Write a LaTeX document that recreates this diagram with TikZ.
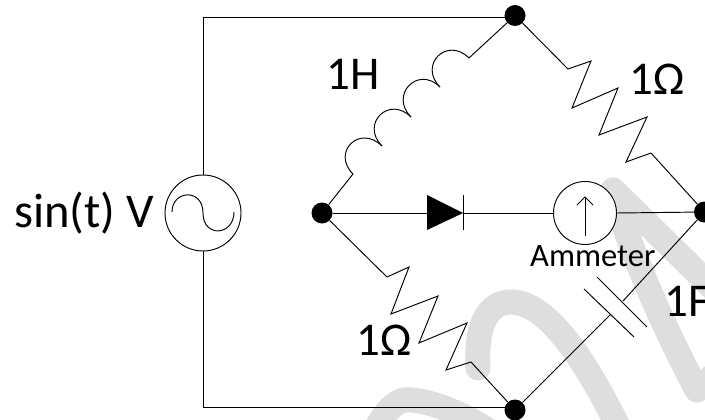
\documentclass[tikz,border=0pt]{standalone}
\usepackage{fontspec}
\setmainfont{Carlito}
\newcommand{\bigtxt}{\fontsize{47}{52}\selectfont}
\newcommand{\sintxt}{\fontsize{48.5}{52}\selectfont}
\newcommand{\midtxt}{\fontsize{32.6}{36}\selectfont}
\tikzset{
  wm/.style={draw=black!13,line width=25pt,line cap=round,line join=round},
  wire/.style={draw=black,line width=0.95pt},
  dot/.style={circle,fill=black,draw=none,minimum size=21pt,inner sep=0pt},
  meter/.style={circle,draw=black,fill=white,line width=0.95pt,inner sep=0pt},
  lab/.style={inner sep=0pt,anchor=base west,text=black},
}
\begin{document}
\begin{tikzpicture}[x=1pt,y=-1pt]
\useasboundingbox (0,0) rectangle (705,420);
\clip (0,0) rectangle (705,420);
\fill[white] (0,0) rectangle (705,420);
% watermark
\draw[wm] (613,190) -- (720,295);
\draw[wm] (613,190) .. controls (630,250) and (660,320) .. (697,390) -- (725,365);
\draw[wm] (478,368) .. controls (476,330) and (485,303) .. (510,302) .. controls (550,301) and (590,370) .. (620,430);
\draw[wm] (378,425) .. controls (390,405) and (400,398) .. (412,400) .. controls (440,403) and (470,418) .. (495,435);
% nodes
\node[dot] (top) at (515,15.5) {};
\node[dot] (lft) at (322,213) {};
\node[dot] (rgt) at (704.5,212) {};
\node[dot] (bot) at (515,410) {};
\node[meter,minimum size=76pt] (src) at (203,213) {};
\node[meter,minimum size=63pt] (amm) at (585,213) {};
\coordinate (tw) at (515,17.3);
\coordinate (bw) at (515,407.3);
\coordinate (dl) at (427,213);
\coordinate (dr) at (463,213);
\coordinate (lt) at (469,58);
\coordinate (lb) at (353,174);
\coordinate (cu) at (623,301);
\coordinate (cd) at (610,315);
\coordinate (r1a) at (568,69);
\coordinate (r1b) at (651,153);
\coordinate (r2a) at (387,277);
\coordinate (r2b) at (471,362);
% source wires
\draw[wire] (src.north) |- (tw);
\draw[wire] (src.south) |- (bw);
% wave
\draw[wire] (172,212) .. controls (172,190) and (203,188) .. (203,213) .. controls (203,238) and (234,236) .. (234,212);
% inductor
\draw[wire] (top) -- (lt) .. controls (447,36) and (418,65) .. (440,87);
\draw[wire] (440,87) .. controls (418,65) and (389,95) .. (411,117);
\draw[wire] (411,117) .. controls (389,95) and (360,124) .. (382,146);
\draw[wire] (382,146) .. controls (360,124) and (331,152) .. (lb) -- (lft);
% R top
\draw[wire,line join=miter] (top) -- (r1a) -- (591,61) -- (572,108) -- (618,88) -- (599,135) -- (647,117) -- (626,162) -- (r1b) -- (rgt);
% R bottom
\draw[wire,line join=miter] (lft) -- (r2a) -- (409,267) -- (391,314) -- (438,296) -- (419,343) -- (467,323) -- (446,370) -- (r2b) -- (bot);
% diode
\draw[wire] (lft) -- (dl);
\fill[black] (427,195) -- (427,230) -- (dr) -- cycle;
\draw[wire] (463,195) -- (463,230);
\draw[wire] (dr) -- (amm.west);
\draw[wire] (amm.east) -- (rgt);
% ammeter arrow
\draw[wire] (585,236) -- (585,197);
\draw[wire] (577,205) -- (585,197) -- (593,205);
% capacitor
\draw[wire] (rgt) -- (cu);
\draw[wire] (cd) -- (bot);
\draw[wire] (597,277) -- (647,327);
\draw[wire] (584,289) -- (634,337);
% labels
\node[lab] (t1) at (14,227) {\sintxt sin(t) V};
\node[lab] (t2) at (326,90) {\bigtxt 1H};
\node[lab] (t3) at (629,95) {\bigtxt 1Ω};
\node[lab] (t4) at (356,355) {\bigtxt 1Ω};
\node[lab] (t5) at (664,316) {\bigtxt 1F};
\node[lab] (t6) at (530,266) {\midtxt Ammeter};
\end{tikzpicture}
\end{document}
